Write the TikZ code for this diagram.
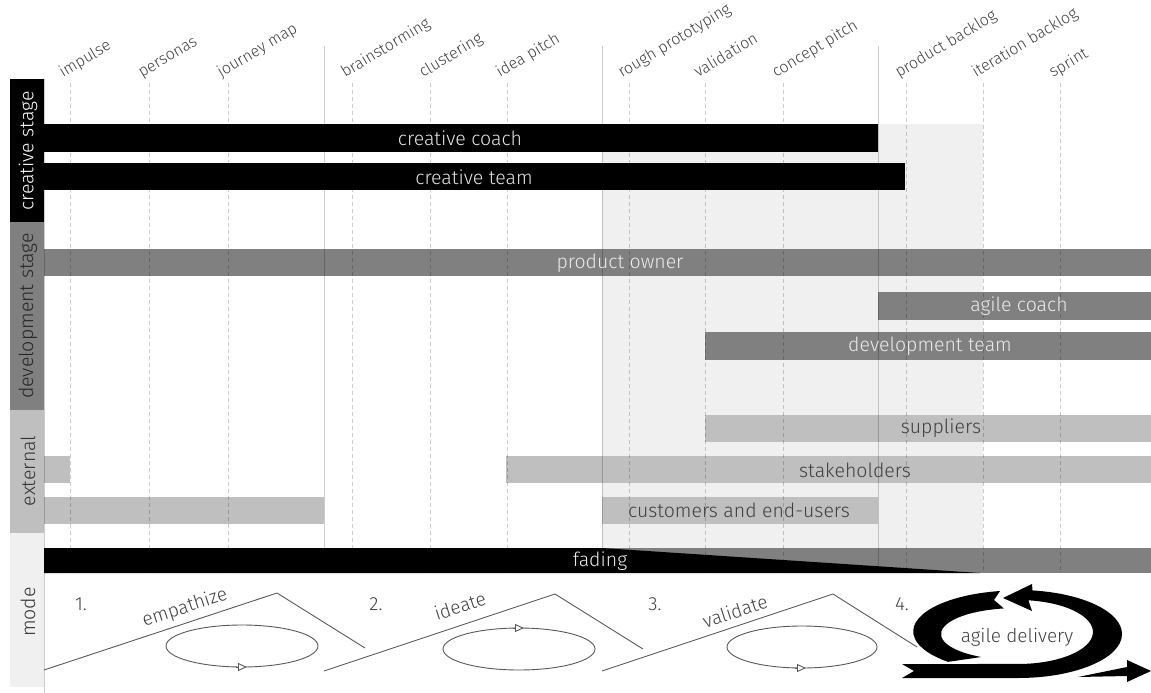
\documentclass[tikz,border=0pt]{standalone}
\usepackage{fontspec}
\setmainfont{Fira Sans Light}
\usetikzlibrary{arrows.meta}

\tikzset{
    gridline/.style={black, opacity=0.2, line width=0.8pt},
    toplabel/.style={anchor=base west, rotate=31, inner sep=0pt, text=black!75, font=\fontsize{16}{18}\selectfont},
    stagelabel/.style={rotate=90, inner sep=0pt, font=\fontsize{19.5}{22}\selectfont},
    barlabel/.style={inner sep=0pt, font=\fontsize{19.5}{22}\selectfont},
    modeline/.style={black!65, line width=0.9pt},
    modetext/.style={inner sep=0pt, text=black!75, font=\fontsize{19}{22}\selectfont},
}

\begin{document}
\begin{tikzpicture}[x=1pt, y=-1pt]
    \useasboundingbox (0,0) rectangle (1151,693);

    % Shaded transition region
    \fill[black!6] (602,124) rectangle (983,548);

    % Stage boxes on the left
    \fill[black] (10,79) rectangle (44,222);
    \node[stagelabel, text=white] (creative) at (28,151) {creative stage};
    \fill[black!50] (10,222) rectangle (44,410);
    \node[stagelabel, text=black!85] (development) at (28,316) {development stage};
    \fill[black!25] (10,410) rectangle (44,533);
    \node[stagelabel, text=black!80] (external) at (28,471) {external};
    \fill[black!6] (10,533) rectangle (44,687);
    \node[stagelabel, text=black!80] (mode) at (28,612) {mode};

    % Grey bars (grid shows through)
    \fill[black!50] (44,249) rectangle (1151,276);
    \fill[black!50] (878,292) rectangle (1151,320);
    \fill[black!50] (705,332) rectangle (1151,360);
    \fill[black!25] (705,415) rectangle (1151,442);
    \fill[black!25] (44,456) rectangle (70,483);
    \fill[black!25] (506,456) rectangle (1151,483);
    \fill[black!25] (44,497) rectangle (324,524);
    \fill[black!25] (602,497) rectangle (878,524);
    \fill[black!50] (44,548) rectangle (1151,573);

    % Phase borders
    \draw[gridline] (44,79) -- (44,693);
    \draw[gridline] (324,46) -- (324,573);
    \draw[gridline] (602,46) -- (602,573);
    \draw[gridline] (878,46) -- (878,573);

    % Activities: dashed line plus tilted label
    \def\activity(#1,#2,#3){
        \draw[gridline, dash pattern=on 4pt off 3pt] (#1,83) -- (#1,573);
        \node[toplabel] (#2) at ({#1-7},78) {#3};
    }

    \activity(70,impulse,impulse)
    \activity(149,personas,personas)
    \activity(228,journey,journey map)
    \activity(352,brainstorm,brainstorming)
    \activity(430,clustering,clustering)
    \activity(507,ideapitch,idea pitch)
    \activity(629,prototyping,rough prototyping)
    \activity(705,validation,validation)
    \activity(783,conceptpitch,concept pitch)
    \activity(906,productbacklog,product backlog)
    \activity(983,iterationbacklog,iteration backlog)
    \activity(1060,sprint,sprint)

    % Black bars
    \fill[black] (44,124) rectangle (878,152);
    \fill[black] (44,163) rectangle (905,190);
    \fill[black] (44,548) -- (602,548) -- (980,573) -- (44,573) -- cycle;

    % Bar labels
    \node[barlabel, text=black!10] (coach) at (460,138) {creative coach};
    \node[barlabel, text=black!10] (team) at (474,177) {creative team};
    \node[barlabel, text=black!8] (owner) at (620,263) {product owner};
    \node[barlabel, text=black!8] (agilecoach) at (1019,306) {agile coach};
    \node[barlabel, text=black!8] (devteam) at (930,346) {development team};
    \node[barlabel, text=black!75] (suppliers) at (941,428) {suppliers};
    \node[barlabel, text=black!75] (stakeholders) at (855,470) {stakeholders};
    \node[barlabel, text=black!75] (customers) at (739,510) {customers and end-users};
    \node[barlabel, text=black!8] (fading) at (600,561) {fading};

    % Mode 1
    \node[modetext] (one) at (81,604) {1.};
    \draw[modeline] (44,670) -- (277,593) -- (365,648);
    \node[modetext, rotate=18] (empathize) at (185,608) {empathize};
    \draw[modeline] (242,646) ellipse [x radius=76, y radius=21];
    \draw[modeline, -{Triangle[open, fill=white, length=9pt, width=8pt]}] (236,667) -- (247,667);

    % Mode 2
    \node[modetext] (two) at (376,604) {2.};
    \draw[modeline] (324,671) -- (555,594) -- (643,649);
    \node[modetext, rotate=18] (ideate) at (460,606) {ideate};
    \draw[modeline] (519,649) ellipse [x radius=76, y radius=21];
    \draw[modeline, -{Triangle[open, fill=white, length=9pt, width=8pt]}] (513,628) -- (524,628);

    % Mode 3
    \node[modetext] (three) at (655,604) {3.};
    \draw[modeline] (602,671) -- (833,594) -- (917,647);
    \node[modetext, rotate=18] (validate) at (735,611) {validate};
    \draw[modeline] (802,647) ellipse [x radius=75, y radius=21];
    \draw[modeline, -{Triangle[open, fill=white, length=9pt, width=8pt]}] (795,668) -- (806,668);

    % Mode 4: agile loop
    \node[modetext] (four) at (902,604) {4.};
    \fill[black] (902,664) -- (914,671) -- (902,678) -- (1018,678)
        arc[start angle=90, end angle=-82, x radius=104, y radius=44]
        -- (1032,584) -- (1003,598) -- (1032,611) -- (1028.4,600.3)
        arc[start angle=-82, end angle=90, x radius=75, y radius=32] -- cycle;
    \fill[black] (1000,591)
        arc[start angle=-100, end angle=-228, x radius=105, y radius=41]
        -- (981.3,657)
        arc[start angle=118, end angle=260, x radius=76, y radius=26]
        -- (994,600) -- cycle;
    \fill[black] (1078,677) -- (1127,667) -- (1127,660) -- (1151,671) -- (1127,682) -- (1127,676) -- cycle;
    \node[modetext] (agile) at (1017,637) {agile delivery};

\end{tikzpicture}
\end{document}
